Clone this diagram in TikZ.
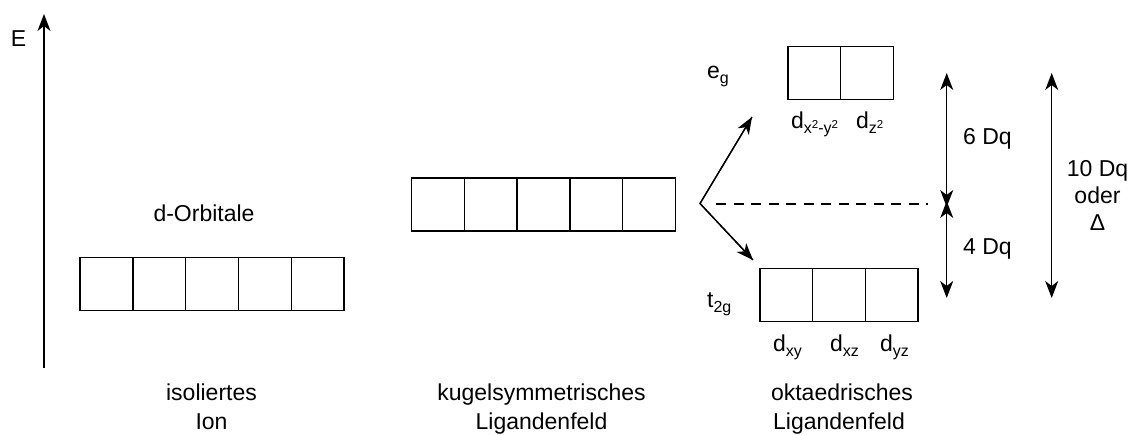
\documentclass[tikz,border=0pt]{standalone}
\usepackage{fontspec}
\setmainfont{Liberation Sans}
\usetikzlibrary{arrows.meta}
\newcommand\lsub[1]{\raisebox{-5pt}{\fontsize{16}{16}\selectfont #1}}
\newcommand\lsup[1]{\raisebox{5.5pt}{\fontsize{11.5}{11.5}\selectfont #1}}
\begin{document}
\begin{tikzpicture}[x=1pt,y=-1pt,
  orb/.style={draw, line width=1.4pt, minimum size=52.8pt, inner sep=0pt, outer sep=0pt},
  lbl/.style={inner sep=0pt, anchor=base, font=\fontsize{23}{29}\selectfont},
  lblw/.style={lbl, anchor=base west},
  tip/.style={Stealth[length=17pt, width=13pt, inset=5pt]},
  arr/.style={line width=1.3pt, -{Stealth[length=17pt, width=13pt, inset=5pt]}},
  darr/.style={line width=1.3pt, {Stealth[length=17pt, width=13pt, inset=5pt]}-{Stealth[length=17pt, width=13pt, inset=5pt]}},
  dashline/.style={line width=1.3pt, dash pattern=on 10pt off 7.5pt}]
\useasboundingbox (0,0) rectangle (1128,435);
% energy axis
\coordinate (ebot) at (44,368);
\coordinate (etop) at (44,14);
\draw[arr] (ebot) -- (etop);
\node[lbl] (E) at (18.5,46.7) {E};
% isolated ion
\foreach \i in {1,...,5}
  \node[orb] (iso\i) at ({80+26.4+(\i-1)*52.8},284) {};
\node[lbl] (dorb) at (204,222) {d-Orbitale};
\node[lbl] (iso) at (211.5,401) {isoliertes};
\node[lbl] (ion) at (211.5,430) {Ion};
% spherical field
\foreach \i in {1,...,5}
  \node[orb] (sph\i) at ({411.7+26.4+(\i-1)*52.7},204.6) {};
\node[lbl] (kug) at (541.5,401) {kugelsymmetrisches};
\node[lbl] (lig1) at (541.5,430) {Ligandenfeld};
% octahedral field: e_g
\node[orb] (eg1) at (814.2,73) {};
\node[orb] (eg2) at (866.8,73) {};
\node[lblw] (eglbl) at (707,79) {e\lsub{g}};
\node[lblw] (dx2y2) at (791,129) {d\lsub{x\lsup{2}-y\lsup{2}}};
\node[lblw] (dz2) at (856,129) {d\lsub{z\lsup{2}}};
% t2g
\node[orb] (t1) at (786.3,295) {};
\node[orb] (t2) at (839,295) {};
\node[orb] (t3) at (891.7,295) {};
\node[lblw] (t2glbl) at (707,308) {t\lsub{2g}};
\node[lblw] (dxy) at (773,352) {d\lsub{xy}};
\node[lblw] (dxz) at (830,352) {d\lsub{xz}};
\node[lblw] (dyz) at (880,352) {d\lsub{yz}};
\node[lbl] (okt) at (842,401) {oktaedrisches};
\node[lbl] (lig2) at (839,430) {Ligandenfeld};
% splitting
\coordinate (v) at (700,203.5);
\coordinate (up) at (752,117);
\coordinate (dn) at (753,260);
\draw[line width=1.3pt] (up) -- (v) -- (dn);
\draw[arr] (v) -- (up);
\draw[arr] (v) -- (dn);
\coordinate (d1) at (716,204);
\coordinate (d2) at (928,204);
\draw[dashline] (d1) -- (d2);
% energy gaps
\coordinate (a1) at (946.7,73);
\coordinate (a2) at (946.7,207);
\coordinate (a3) at (946.7,201);
\coordinate (a4) at (946.7,298);
\draw[darr] (a1) -- (a2);
\draw[darr] (a3) -- (a4);
\node[lbl] (six) at (987.5,145) {6 Dq};
\node[lbl] (four) at (987.5,255) {4 Dq};
\coordinate (b1) at (1051.7,73);
\coordinate (b2) at (1051.7,298);
\draw[darr] (b1) -- (b2);
\node[lbl] (ten) at (1097.5,177) {10 Dq};
\node[lbl] (oder) at (1097.5,204) {oder};
\node[lbl] (delta) at (1097.5,230.5) {Δ};
\end{tikzpicture}
\end{document}
